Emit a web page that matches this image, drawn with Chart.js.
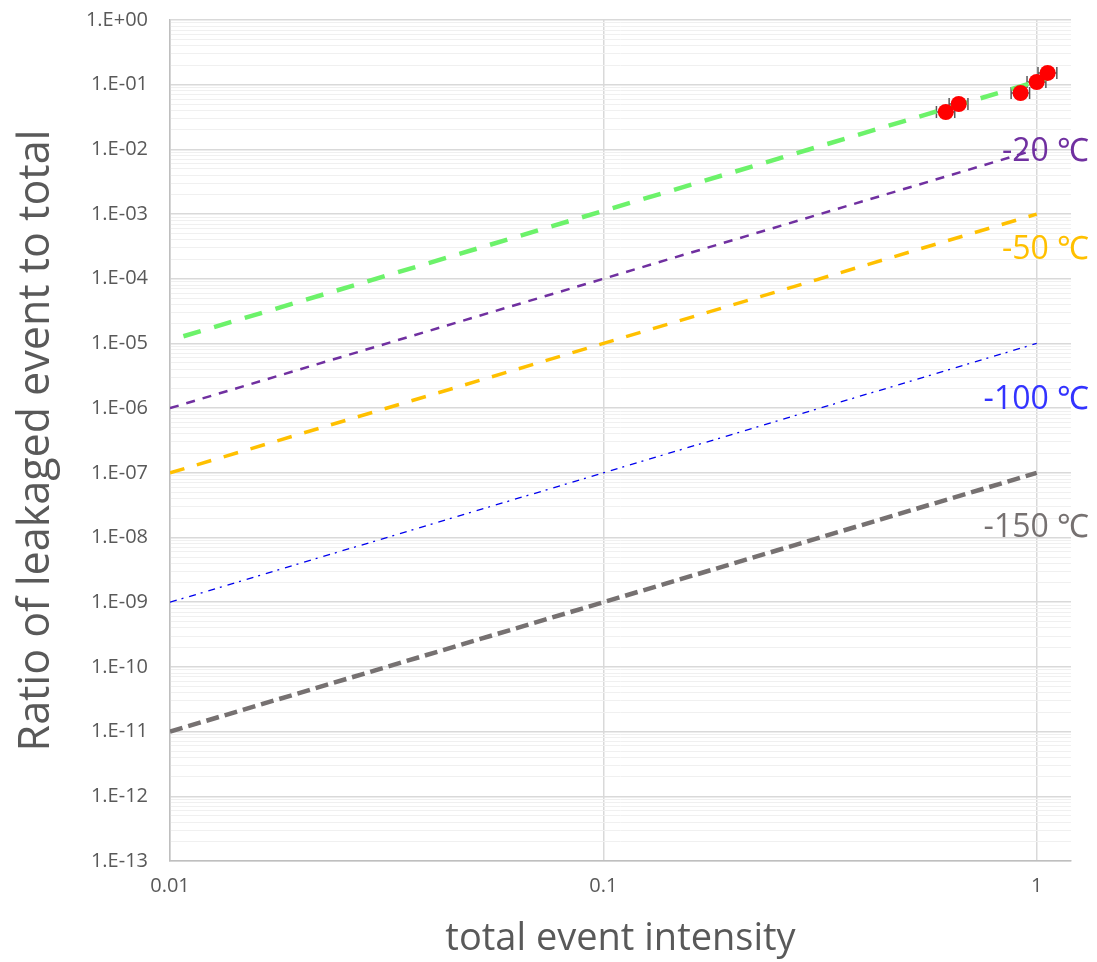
<!DOCTYPE html>
<html>
<head>
<meta charset="utf-8">
<script src="https://cdn.jsdelivr.net/npm/chart.js@4.4.1/dist/chart.umd.min.js"></script>
<style>
    body { margin: 0; background: #fff; }
    #wrap { width: 1097px; height: 962px; position: relative; }
</style>
</head>
<body>
<div id="wrap"><canvas id="leakChart"></canvas></div>
<script>
// Measured points (total intensity vs leak ratio)
const pointX = [0.617, 0.661, 0.918, 1.0, 1.06];
const pointY = [0.0378, 0.0503, 0.0744, 0.110, 0.152];
const pointXErr = [0.03, 0.033, 0.045, 0.05, 0.053];

// Fit / model lines (end points)
const greenX = [0.01, 1.05];
const greenY = [1.12e-5, 0.1235];
const lineX = [0.01, 1];
const minus20Y = [1e-6, 1e-2];
const minus50Y = [1e-7, 1e-3];
const minus100Y = [1e-9, 1e-5];
const minus150Y = [1e-11, 1e-7];

// Temperature labels
const tempLabels = ['-20 ℃', '-50 ℃', '-100 ℃', '-150 ℃'];
const tempColors = ['#7030a0', '#ffc000', '#3333ff', '#767171'];
const tempLabelX = 1.32;
const tempLabelY = [9.1e-3, 2.8e-4, 1.34e-6, 1.4e-8];

// Axis ticks
const xTickValues = [0.01, 0.1, 1];
const xTickLabels = ['0.01', '0.1', '1'];
const yTickValues = [1, 1e-1, 1e-2, 1e-3, 1e-4, 1e-5, 1e-6, 1e-7, 1e-8, 1e-9, 1e-10, 1e-11, 1e-12, 1e-13];
const yTickLabels = ['1.E+00', '1.E-01', '1.E-02', '1.E-03', '1.E-04', '1.E-05', '1.E-06',
    '1.E-07', '1.E-08', '1.E-09', '1.E-10', '1.E-11', '1.E-12', '1.E-13'];
const minorSteps = [2, 3, 4, 5, 6, 7, 8, 9];

const textGray = '#595959';
const fontFamily = '"Open Sans", "Noto Sans", "Noto Sans CJK JP", sans-serif';

const toPts = (xs, ys) => xs.map((x, i) => ({ x, y: ys[i] }));

const fitLine = (xs, ys, color, width, dash, offset) => ({
    data: toPts(xs, ys),
    showLine: true,
    borderColor: color,
    borderWidth: width,
    borderDash: dash,
    borderDashOffset: offset || 0,
    pointRadius: 0,
    fill: false
});

// horizontal error bars, drawn under the dots
const errorBars = {
    id: 'errorBars',
    beforeDatasetsDraw(chart) {
        const { ctx, scales: { x, y } } = chart;
        ctx.save();
        ctx.strokeStyle = '#595959';
        ctx.lineWidth = 1.5;
        pointX.forEach((px, i) => {
            const yp = y.getPixelForValue(pointY[i]);
            const x1 = x.getPixelForValue(px - pointXErr[i]);
            const x2 = x.getPixelForValue(px + pointXErr[i]);
            ctx.beginPath();
            ctx.moveTo(x1, yp); ctx.lineTo(x2, yp);
            ctx.moveTo(x1, yp - 6); ctx.lineTo(x1, yp + 6);
            ctx.moveTo(x2, yp - 6); ctx.lineTo(x2, yp + 6);
            ctx.stroke();
        });
        ctx.restore();
    }
};

const tempText = {
    id: 'tempText',
    afterDraw(chart) {
        const { ctx, scales: { x, y } } = chart;
        ctx.save();
        ctx.font = '32px ' + fontFamily;
        ctx.textAlign = 'right';
        ctx.textBaseline = 'middle';
        tempLabels.forEach((t, i) => {
            ctx.fillStyle = tempColors[i];
            ctx.fillText(t, x.getPixelForValue(tempLabelX), y.getPixelForValue(tempLabelY[i]));
        });
        ctx.restore();
    }
};

new Chart(document.getElementById('leakChart'), {
    type: 'scatter',
    data: {
        datasets: [
            {
                data: toPts(pointX, pointY),
                backgroundColor: '#ff0000',
                borderColor: '#ff0000',
                pointRadius: 8,
                pointBorderWidth: 0
            },
            fitLine(greenX, greenY, '#6cf26a', 4.5, [18, 14], 18),
            fitLine(lineX, minus20Y, '#7030a0', 2.5, [9, 8]),
            fitLine(lineX, minus50Y, '#ffc000', 3.5, [15, 13]),
            fitLine(lineX, minus100Y, '#0000ee', 1.3, [7, 5, 2, 6]),
            fitLine(lineX, minus150Y, '#767171', 4.5, [13, 6])
        ]
    },
    options: {
        responsive: true,
        maintainAspectRatio: false,
        animation: false,
        layout: { padding: { top: 20, right: 26, left: 0, bottom: 0 } },
        plugins: {
            legend: { display: false },
            tooltip: { enabled: false }
        },
        scales: {
            x: {
                type: 'logarithmic',
                min: 0.01,
                max: 1.2,
                afterBuildTicks: scale => { scale.ticks = xTickValues.map(v => ({ value: v })); },
                afterFit: scale => { scale.height = 101; },
                ticks: {
                    autoSkip: false,
                    maxRotation: 0,
                    padding: 13,
                    color: textGray,
                    font: { family: fontFamily, size: 20 },
                    callback: (val, i) => xTickLabels[i]
                },
                grid: { color: '#d9d9d9', lineWidth: 1.5, drawTicks: false },
                border: { color: '#bfbfbf', width: 1.5 },
                title: {
                    display: true,
                    text: 'total event intensity',
                    color: textGray,
                    font: { family: fontFamily, size: 38 },
                    padding: { top: 0, bottom: 0 }
                }
            },
            y: {
                type: 'logarithmic',
                min: 1e-13,
                max: 1,
                afterBuildTicks: scale => {
                    const t = [];
                    yTickValues.forEach((v, i) => {
                        t.push({ value: v, major: true, label: yTickLabels[i] });
                        if (v < 1) minorSteps.forEach(m => t.push({ value: v * m, major: false }));
                    });
                    scale.ticks = t;
                },
                afterFit: scale => {
                    scale.width = 170;
                    // tick padding otherwise pushes the plot top down
                    scale.paddingTop = 0;
                    scale.paddingBottom = 0;
                },
                ticks: {
                    autoSkip: false,
                    padding: 22,
                    color: textGray,
                    font: { family: fontFamily, size: 20 },
                    callback: function (val, i, ticks) {
                        return ticks[i].major ? ticks[i].label : '';
                    }
                },
                grid: {
                    drawTicks: false,
                    color: ctx => (ctx.tick && ctx.tick.major ? '#d9d9d9' : '#f0f0f0'),
                    lineWidth: ctx => (ctx.tick && ctx.tick.major ? 1.5 : 1)
                },
                border: { color: '#bfbfbf', width: 1.5 },
                title: {
                    display: true,
                    text: 'Ratio of leakaged event to total',
                    color: textGray,
                    font: { family: fontFamily, size: 43 },
                    padding: { top: 11, bottom: 0 }
                }
            }
        }
    },
    plugins: [errorBars, tempText]
});
</script>
</body>
</html>
